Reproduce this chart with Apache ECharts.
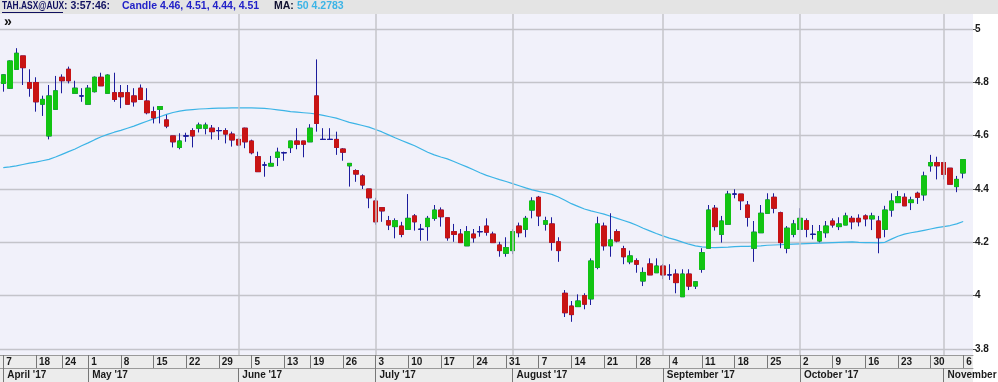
<!DOCTYPE html>
<html><head><meta charset="utf-8">
<script src="https://cdn.jsdelivr.net/npm/echarts@6/dist/echarts.min.js"></script>
<style>html,body{margin:0;padding:0;background:#fff}#c{width:998px;height:382px}</style>
</head><body><div id="c"></div>
<script>
// ---- data ----
const dates = [
'04-07','04-10','04-11','04-12','04-13','04-18','04-19','04-20','04-21','04-24','04-26','04-27','04-28',
'05-01','05-02','05-03','05-04','05-05','05-08','05-09','05-10','05-11','05-12','05-15','05-16','05-17','05-18','05-19','05-22','05-23','05-24','05-25','05-26','05-29','05-30','05-31',
'06-01','06-02','06-05','06-06','06-07','06-08','06-09','06-13','06-14','06-15','06-16','06-19','06-20','06-21','06-22','06-23','06-26','06-27','06-28','06-29','06-30',
'07-03','07-04','07-05','07-06','07-07','07-10','07-11','07-12','07-13','07-14','07-17','07-18','07-19','07-20','07-21','07-24','07-25','07-26','07-27','07-28','07-31',
'08-01','08-02','08-03','08-04','08-07','08-08','08-09','08-10','08-11','08-14','08-15','08-16','08-17','08-18','08-21','08-22','08-23','08-24','08-25','08-28','08-29','08-30','08-31',
'09-01','09-04','09-05','09-06','09-07','09-08','09-11','09-12','09-13','09-14','09-15','09-18','09-19','09-20','09-21','09-22','09-25','09-26','09-27','09-28','09-29',
'10-02','10-03','10-04','10-05','10-06','10-09','10-10','10-11','10-12','10-13','10-16','10-17','10-18','10-19','10-20','10-23','10-24','10-25','10-26','10-27','10-30','10-31',
'11-01','11-02','11-03','11-06',''
];
// open, close, low, high
const candles = [
[4.796,4.828,4.765,4.830],[4.778,4.880,4.775,4.882],[4.849,4.909,4.849,4.928],[4.899,4.855,4.790,4.899],[4.799,4.778,4.746,4.849],
[4.799,4.727,4.690,4.819],[4.718,4.736,4.674,4.750],[4.599,4.749,4.586,4.790],[4.699,4.768,4.699,4.824],[4.819,4.806,4.759,4.830],
[4.849,4.806,4.796,4.859],[4.759,4.778,4.759,4.806],[4.749,4.749,4.727,4.778],[4.718,4.778,4.718,4.790],[4.765,4.819,4.762,4.822],
[4.819,4.787,4.787,4.836],[4.759,4.827,4.759,4.830],[4.761,4.736,4.727,4.836],[4.761,4.746,4.703,4.790],[4.761,4.718,4.718,4.790],
[4.749,4.727,4.709,4.778],[4.778,4.736,4.736,4.792],[4.730,4.686,4.680,4.778],[4.690,4.667,4.646,4.709],[4.699,4.709,4.646,4.709],
[4.659,4.636,4.628,4.678],[4.599,4.577,4.556,4.599],[4.556,4.580,4.549,4.609],[4.599,4.599,4.577,4.611],[4.619,4.599,4.556,4.628],
[4.628,4.640,4.612,4.649],[4.628,4.640,4.605,4.649],[4.628,4.615,4.586,4.640],[4.619,4.619,4.584,4.632],[4.619,4.606,4.571,4.628],
[4.606,4.584,4.559,4.615],[4.586,4.565,4.560,4.590],[4.628,4.577,4.553,4.630],[4.580,4.536,4.530,4.585],[4.521,4.465,4.465,4.540],
[4.490,4.490,4.446,4.502],[4.486,4.496,4.486,4.524],[4.519,4.538,4.486,4.555],[4.536,4.536,4.506,4.540],[4.555,4.580,4.535,4.580],
[4.580,4.568,4.549,4.628],[4.580,4.568,4.519,4.580],[4.577,4.628,4.577,4.643],[4.749,4.646,4.615,4.886],[4.586,4.586,4.586,4.628],
[4.586,4.586,4.586,4.628],[4.586,4.556,4.528,4.615],[4.550,4.538,4.506,4.553],[4.487,4.496,4.409,4.496],[4.469,4.456,4.427,4.474],
[4.449,4.415,4.400,4.455],[4.400,4.367,4.328,4.400],[4.355,4.277,4.266,4.367],[4.330,4.318,4.277,4.330],[4.281,4.265,4.246,4.299],
[4.259,4.281,4.215,4.290],[4.261,4.230,4.219,4.277],[4.249,4.290,4.249,4.381],[4.299,4.277,4.244,4.306],[4.249,4.249,4.206,4.269],
[4.259,4.290,4.206,4.299],[4.290,4.321,4.281,4.340],[4.321,4.296,4.259,4.331],[4.292,4.217,4.206,4.292],[4.240,4.230,4.202,4.269],
[4.231,4.199,4.199,4.250],[4.187,4.240,4.187,4.261],[4.231,4.217,4.199,4.250],[4.240,4.240,4.221,4.261],[4.261,4.238,4.225,4.290],
[4.231,4.199,4.199,4.240],[4.190,4.169,4.146,4.202],[4.159,4.180,4.146,4.219],[4.169,4.240,4.156,4.249],[4.261,4.236,4.219,4.274],
[4.249,4.290,4.219,4.299],[4.321,4.355,4.290,4.369],[4.369,4.299,4.261,4.374],[4.268,4.281,4.244,4.296],[4.269,4.200,4.169,4.294],
[4.202,4.169,4.127,4.219],[4.009,3.936,3.920,4.021],[3.961,3.929,3.902,3.980],[3.959,3.980,3.959,4.005],[4.000,3.968,3.949,4.009],
[3.988,4.130,3.965,4.140],[4.106,4.269,4.099,4.296],[4.261,4.187,4.169,4.274],[4.187,4.209,4.146,4.309],[4.240,4.205,4.200,4.249],
[4.176,4.146,4.118,4.187],[4.127,4.149,4.118,4.169],[4.131,4.118,4.086,4.140],[4.055,4.087,4.036,4.106],[4.119,4.078,4.078,4.140],
[4.086,4.111,4.086,4.140],[4.111,4.078,4.062,4.119],[4.078,4.078,4.059,4.118],[4.081,4.049,4.009,4.099],[3.996,4.081,3.996,4.099],
[4.081,4.036,4.021,4.099],[4.036,4.052,4.025,4.055],[4.099,4.161,4.086,4.178],[4.178,4.321,4.178,4.340],[4.328,4.259,4.244,4.340],
[4.230,4.280,4.199,4.299],[4.268,4.381,4.268,4.393],[4.381,4.381,4.365,4.399],[4.381,4.356,4.321,4.381],[4.340,4.294,4.259,4.355],
[4.178,4.238,4.127,4.280],[4.236,4.309,4.236,4.340],[4.309,4.359,4.309,4.384],[4.369,4.328,4.309,4.384],[4.311,4.199,4.178,4.315],
[4.178,4.253,4.159,4.261],[4.230,4.269,4.219,4.284],[4.249,4.290,4.249,4.328],[4.281,4.249,4.219,4.290],[4.230,4.230,4.211,4.265],
[4.205,4.240,4.200,4.265],[4.236,4.261,4.217,4.280],[4.280,4.265,4.255,4.290],[4.259,4.269,4.246,4.294],[4.265,4.299,4.265,4.311],
[4.290,4.277,4.249,4.299],[4.290,4.277,4.260,4.305],[4.299,4.288,4.260,4.305],[4.288,4.299,4.246,4.311],[4.280,4.217,4.159,4.299],
[4.249,4.321,4.219,4.337],[4.321,4.355,4.296,4.384],[4.349,4.371,4.349,4.393],[4.369,4.337,4.337,4.384],[4.349,4.359,4.321,4.371],
[4.384,4.369,4.344,4.390],[4.378,4.449,4.356,4.465],[4.487,4.499,4.465,4.528],[4.499,4.487,4.436,4.521],[4.499,4.455,4.436,4.499],
[4.478,4.418,4.418,4.478],[4.409,4.436,4.388,4.449],[4.460,4.510,4.440,4.510]
];
// 50-day moving average
const ma50 = [
4.480,4.483,4.487,4.492,4.497,4.501,4.506,4.511,4.520,4.530,4.540,4.550,4.562,4.573,4.585,4.596,4.605,4.613,4.620,4.628,
4.636,4.645,4.654,4.663,4.671,4.680,4.687,4.692,4.696,4.698,4.700,4.701,4.702,4.703,4.703,4.704,4.704,4.704,4.704,4.703,
4.702,4.700,4.697,4.694,4.690,4.688,4.686,4.684,4.681,4.676,4.671,4.666,4.658,4.650,4.644,4.638,4.632,4.623,4.614,4.603,
4.592,4.582,4.572,4.562,4.550,4.538,4.528,4.520,4.513,4.503,4.493,4.483,4.472,4.461,4.451,4.443,4.435,4.428,4.420,4.412,
4.404,4.397,4.391,4.386,4.380,4.370,4.358,4.345,4.335,4.325,4.318,4.312,4.306,4.298,4.290,4.282,4.274,4.264,4.253,4.243,
4.233,4.224,4.216,4.209,4.201,4.193,4.187,4.183,4.181,4.180,4.181,4.182,4.184,4.185,4.185,4.186,4.187,4.189,4.190,4.191,
4.192,4.193,4.194,4.195,4.196,4.197,4.198,4.199,4.200,4.201,4.202,4.200,4.199,4.199,4.198,4.200,4.212,4.223,4.231,4.236,
4.240,4.245,4.250,4.255,4.259,4.263,4.269,4.278
];
const weekStarts = ['04-07','04-18','04-24','05-01','05-08','05-15','05-22','05-29','06-05','06-13','06-19','06-26',
'07-03','07-10','07-17','07-24','07-31','08-07','08-14','08-21','08-28','09-04','09-11','09-18','09-25',
'10-02','10-09','10-16','10-23','10-30','11-06'];
const monthStarts = ['04-07','05-01','06-01','07-03','08-01','09-01','10-02','11-01'];
const monthNames = ["April '17","May '17","June '17","July '17","August '17","September '17","October '17","November '17"];
const gridMonths = ['06-01','07-03','08-01','09-01','10-02','11-01'];
const yTicks = [3.8,4.0,4.2,4.4,4.6,4.8,5.0];
const headerSym = 'TAH.ASX@AUX', headerTime = ': 3:57:46:', headerCandle = 'Candle 4.46, 4.51, 4.44, 4.51';
const headerMaLabel = 'MA:', headerMaValue = '50 4.2783';

// ---- chart ----
const weekSet = new Set(weekStarts.map(d => dates.indexOf(d)));
const monthSet = new Set(monthStarts.map(d => dates.indexOf(d)));
const bodies = candles.map(c => [c[0], c[1], Math.min(c[0], c[1]), Math.max(c[0], c[1])]);
const NAVY = '#1c1c9c', GREEN = '#12c412', RED = '#c81414';
const FONT = 'Liberation Sans';
const HF = 'bold 10.5px ' + FONT;

const chart = echarts.init(document.getElementById('c'), null, {renderer: 'canvas'});
chart.setOption({
  animation: false,
  graphic: [
    {type: 'rect', shape: {x: 0, y: 0, width: 998, height: 14}, style: {fill: '#e4e4e4'}, z: -5},
    {type: 'rect', shape: {x: 0, y: 355, width: 973, height: 27}, style: {fill: '#ececec'}, z: -5},
    {type: 'text', x: 2, y: 1, scaleX: 0.8, style: {text: headerSym, fill: '#101060', font: HF}, z: 10},
    {type: 'line', shape: {x1: 2, y1: 12.5, x2: 63, y2: 12.5}, style: {stroke: '#101060', lineWidth: 1}, z: 10},
    {type: 'text', x: 64, y: 1, style: {text: headerTime, fill: '#101060', font: HF}, z: 10},
    {type: 'text', x: 122, y: 1, style: {text: headerCandle, fill: '#2222c8', font: HF}, z: 10},
    {type: 'text', x: 274, y: 1, style: {text: headerMaLabel, fill: '#101030', font: HF}, z: 10},
    {type: 'text', x: 297, y: 1, style: {text: headerMaValue, fill: '#3cb4e6', font: HF}, z: 10},
    {type: 'text', x: 4, y: 15, style: {text: '»', fill: '#111', font: 'bold 14px ' + FONT}, z: 10}
  ],
  grid: {left: 0, right: 25, top: 14, bottom: 27, show: true, backgroundColor: '#f1f1fa', borderWidth: 0,
    containLabel: false, outerBoundsMode: 'none'},
  xAxis: [{
    type: 'category', data: dates, boundaryGap: true,
    axisLine: {show: true, lineStyle: {color: '#9a9a9a', width: 1}},
    axisTick: {show: true, alignWithLabel: true, length: 13, interval: (i) => weekSet.has(i), lineStyle: {color: '#777', width: 1}},
    axisLabel: {interval: (i) => weekSet.has(i), formatter: (v) => String(parseInt(v.slice(3), 10)),
      align: 'left', margin: 2, padding: [0, 0, 0, 3], color: '#1a1a1a', fontSize: 10, fontWeight: 'bold', fontFamily: FONT},
    splitLine: {show: false}
  }, {
    type: 'category', data: dates, boundaryGap: true, position: 'bottom', offset: 13,
    axisLine: {show: true, lineStyle: {color: '#9a9a9a', width: 1}},
    axisTick: {show: true, alignWithLabel: true, length: 14, interval: (i) => monthSet.has(i), lineStyle: {color: '#777', width: 1}},
    axisLabel: {interval: (i) => monthSet.has(i), formatter: (v) => monthNames[monthStarts.indexOf(v)] || '',
      align: 'left', margin: 2, padding: [0, 0, 0, 4], color: '#1a1a1a', fontSize: 10, fontWeight: 'bold', fontFamily: FONT},
    splitLine: {show: false}
  }],
  yAxis: {
    type: 'value', position: 'right', min: 3.7775, max: 5.05625, splitNumber: 6, scale: true,
    axisLine: {show: false},
    axisTick: {show: true, length: 3, lineStyle: {color: '#555'}},
    axisLabel: {margin: 2, color: '#1a1a1a', fontSize: 10, fontWeight: 'bold', fontFamily: FONT,
      showMinLabel: false, showMaxLabel: false,
      formatter: (v) => yTicks.some(t => Math.abs(t - v) < 1e-6) ? String(+v.toFixed(1)) : ''},
    splitLine: {show: true, showMinLine: false, showMaxLine: false, lineStyle: {color: '#c4c4ca', width: 1.3}}
  },
  series: [{
    type: 'line', data: ma50, symbol: 'none', lineStyle: {color: '#3cb4e6', width: 1.2}, z: 1,
    markLine: {silent: true, symbol: 'none', label: {show: false},
      lineStyle: {color: '#c4c4ca', width: 1.5, type: 'solid'},
      data: gridMonths.map(d => ({xAxis: d}))}
  }, {
    type: 'candlestick', data: candles, barWidth: 5, z: 3,
    itemStyle: {color: NAVY, color0: NAVY, borderColor: NAVY, borderColor0: NAVY, borderColorDoji: NAVY, borderWidth: 1}
  }, {
    type: 'candlestick', data: bodies, barWidth: 5, z: 4,
    itemStyle: {color: GREEN, color0: RED, borderColor: GREEN, borderColor0: RED, borderColorDoji: NAVY, borderWidth: 1}
  }]
});
</script></body></html>
